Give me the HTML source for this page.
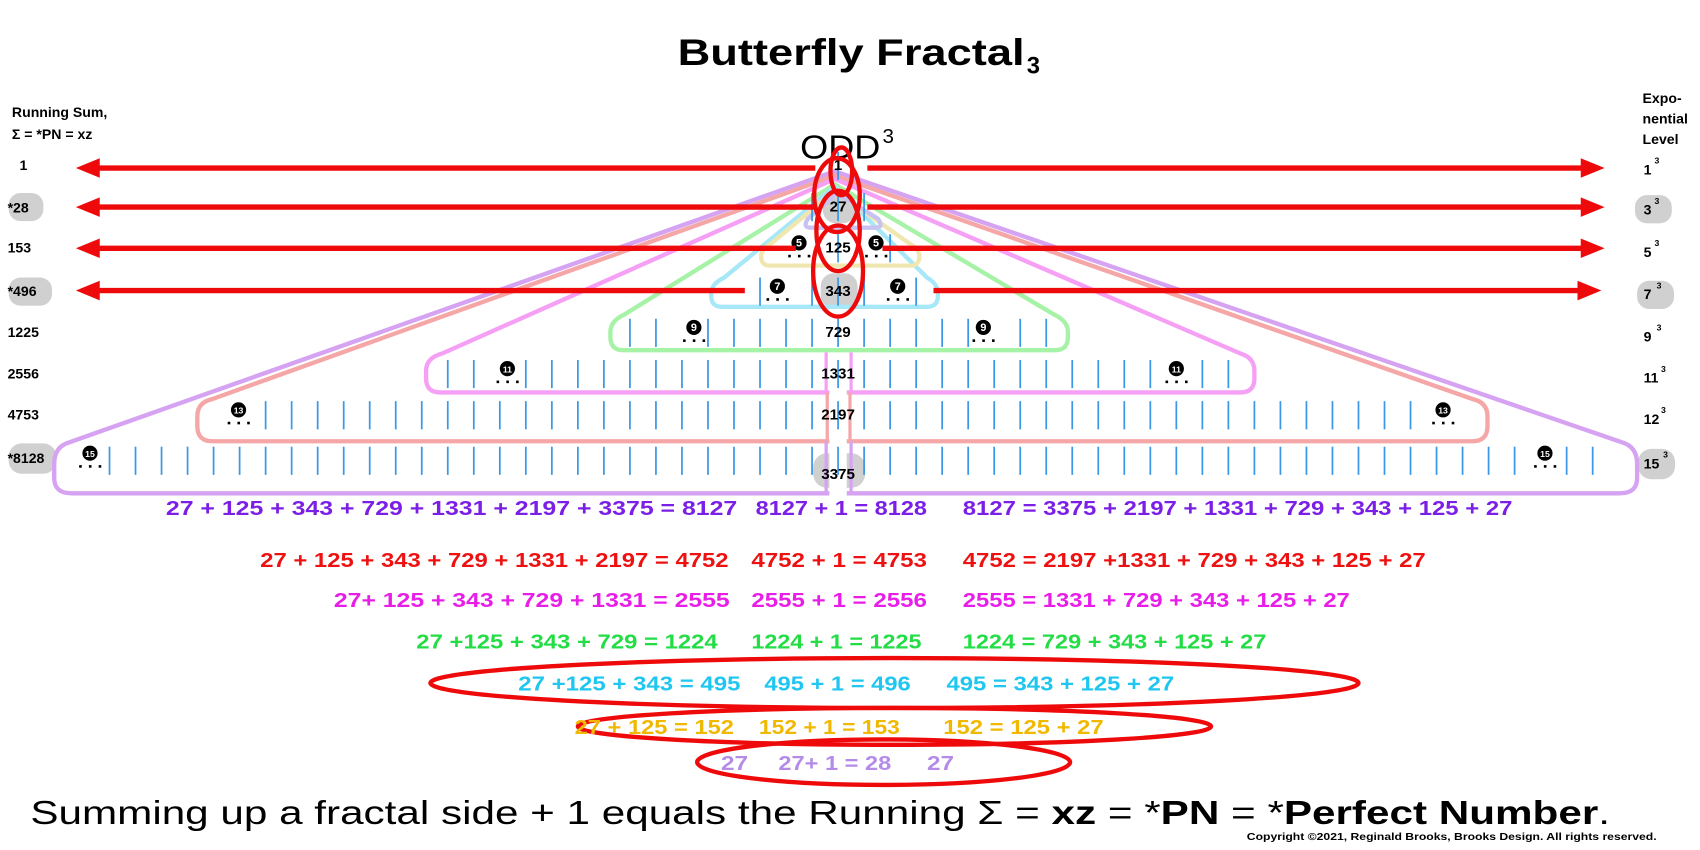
<!DOCTYPE html>
<html><head><meta charset="utf-8"><style>html,body{margin:0;padding:0;background:#fff}svg{display:block}</style></head>
<body>
<svg width="1700" height="850" viewBox="0 0 1568 784" xmlns="http://www.w3.org/2000/svg" font-family="Liberation Sans, sans-serif">
<rect width="1568" height="784" fill="#fff"/>
<text x="625" y="60" font-size="34" font-weight="bold" textLength="320" lengthAdjust="spacingAndGlyphs">Butterfly Fractal</text>
<text x="947" y="68" font-size="22" font-weight="bold">3</text>
<text x="738" y="146" font-size="31" textLength="74" lengthAdjust="spacingAndGlyphs">ODD</text>
<text x="814" y="132" font-size="19">3</text>
<g font-size="13" font-weight="bold">
<text x="11" y="108">Running Sum,</text><text x="11" y="128">Σ = *PN = xz</text>
<text x="1515" y="95">Expo-</text><text x="1515" y="114">nential</text><text x="1515" y="133">Level</text>
</g>
<g fill="#d0d0d0">
<rect x="8" y="178" width="32" height="26" rx="11"/><rect x="8" y="256" width="40" height="26" rx="11"/><rect x="8" y="409" width="44" height="28" rx="12"/>
<rect x="1508" y="180" width="34" height="26" rx="11"/><rect x="1510" y="259" width="34" height="26" rx="11"/><rect x="1511" y="414" width="34" height="28" rx="12"/>
<rect x="759" y="174" width="30" height="32" rx="12"/><rect x="757" y="252" width="34" height="32" rx="12"/><rect x="750" y="418" width="48" height="32" rx="13"/>
</g>
<g font-size="13" font-weight="bold">
<text x="18" y="157">1</text><text x="7" y="196">*28</text><text x="7" y="233">153</text><text x="7" y="273">*496</text>
<text x="7" y="311">1225</text><text x="7" y="349">2556</text><text x="7" y="387">4753</text><text x="7" y="427">*8128</text>
<text x="1516" y="161">1</text><text x="1516" y="198">3</text><text x="1516" y="237">5</text><text x="1516" y="276">7</text>
<text x="1516" y="315">9</text><text x="1516" y="353">11</text><text x="1516" y="391">12</text><text x="1516" y="432">15</text>
</g>
<g font-size="8" font-weight="bold">
<text x="1526" y="151">3</text><text x="1526" y="188">3</text><text x="1526" y="227">3</text><text x="1528" y="266">3</text>
<text x="1528" y="305">3</text><text x="1532" y="343">3</text><text x="1532" y="381">3</text><text x="1534" y="422">3</text>
</g>
<g fill="none" stroke-width="4" stroke-linejoin="round">
<path d="M770,158 L64,408 Q50,412 50,428 L50,441 Q50,455 66,455 L1494,455 Q1510,455 1510,441 L1510,428 Q1510,412 1496,408 Z" stroke="#d6a2f2"/>
<path d="M770,162 L196,368 Q182,371 182,384 L182,393 Q182,407 196,407 L1358,407 Q1372,407 1372,393 L1372,384 Q1372,371 1358,368 Z" stroke="#f5a6a6"/>
<path d="M770,165 L408,326 Q393,330 393,342 L393,349 Q393,362 406,362 L1144,362 Q1157,362 1157,349 L1157,342 Q1157,330 1144,326 Z" stroke="#f5a0f5"/>
<path d="M770,170 L576,290 Q563,296 563,306 L563,311 Q563,323 575,323 L973,323 Q985,323 985,311 L985,306 Q985,296 972,290 Z" stroke="#a6f2a6"/>
<path d="M770,172 L668,256 Q656,262 656,270 L656,273 Q656,283 666,283 L855,283 Q865,283 865,273 L865,270 Q865,262 855,256 Z" stroke="#a6e8f8"/>
<path d="M770,176 L712,224 Q702,230 702,236 Q702,245 710,245 L840,245 Q848,245 848,236 Q848,230 838,224 Z" stroke="#f0e6b0"/>
<path d="M772,178 L745,202 Q740,210 748,210 L808,210 Q815,210 810,202 Z" stroke="#c8c2f2"/>
</g>
<g stroke="#fff" stroke-width="16">
<line x1="773" y1="330" x2="773" y2="462"/>
</g>
<g stroke-width="3">
<line x1="762" y1="325" x2="762" y2="364" stroke="#f5a0f5"/><line x1="785" y1="325" x2="785" y2="364" stroke="#f5a0f5"/>
<line x1="763" y1="362" x2="763" y2="409" stroke="#f5a6a6"/><line x1="784" y1="362" x2="784" y2="409" stroke="#f5a6a6"/>
<line x1="762" y1="407" x2="762" y2="457" stroke="#d6a2f2"/><line x1="785" y1="407" x2="785" y2="457" stroke="#d6a2f2"/>
</g>
<g stroke="#3a98e6" stroke-width="1.6" id="ticks"></g>
<g id="badges"></g>
<g font-size="14" font-weight="bold" text-anchor="middle">
<text x="773" y="157">1</text><text x="773" y="195">27</text><text x="773" y="233">125</text><text x="773" y="273">343</text>
<text x="773" y="311">729</text><text x="773" y="349">1331</text><text x="773" y="387">2197</text><text x="773" y="442">3375</text>
</g>
<g stroke="#ee0a0a" stroke-width="5">
<line x1="88" y1="155" x2="752" y2="155"/><line x1="800" y1="155" x2="1462" y2="155"/>
<line x1="88" y1="191" x2="752" y2="191"/><line x1="800" y1="191" x2="1462" y2="191"/>
<line x1="88" y1="229" x2="734" y2="229"/><line x1="814" y1="229" x2="1462" y2="229"/>
<line x1="88" y1="268" x2="687" y2="268"/><line x1="861" y1="268" x2="1460" y2="268"/>
</g>
<g fill="#ee0a0a">
<polygon points="70,155 92,146 92,164"/><polygon points="1480,155 1458,146 1458,164"/>
<polygon points="70,191 92,182 92,200"/><polygon points="1480,191 1458,182 1458,200"/>
<polygon points="70,229 92,220 92,238"/><polygon points="1480,229 1458,220 1458,238"/>
<polygon points="70,268 92,259 92,277"/><polygon points="1477,268 1455,259 1455,277"/>
</g>
<g fill="none" stroke="#ee0a0a" stroke-width="4">
<ellipse cx="776" cy="158" rx="10" ry="22"/>
<ellipse cx="772" cy="180" rx="21" ry="34"/>
<ellipse cx="773" cy="213" rx="20" ry="37"/>
<ellipse cx="773" cy="250" rx="23" ry="42"/>
<ellipse cx="825" cy="630" rx="428" ry="23"/>
<ellipse cx="825" cy="670" rx="292" ry="17"/>
<ellipse cx="815" cy="703" rx="172" ry="21"/>
</g>
<g font-size="19" font-weight="bold" lengthAdjust="spacingAndGlyphs">
<g fill="#7b1fe6">
<text x="153" y="475" textLength="527" lengthAdjust="spacingAndGlyphs">27 + 125 + 343 + 729 + 1331 + 2197 + 3375 = 8127</text>
<text x="697" y="475" textLength="158" lengthAdjust="spacingAndGlyphs">8127 + 1 = 8128</text>
<text x="888" y="475" textLength="507" lengthAdjust="spacingAndGlyphs">8127 = 3375 + 2197 + 1331 + 729 + 343 + 125 + 27</text></g>
<g fill="#ee1111">
<text x="240" y="523" textLength="432" lengthAdjust="spacingAndGlyphs">27 + 125 + 343 + 729 + 1331 + 2197 = 4752</text>
<text x="693" y="523" textLength="162" lengthAdjust="spacingAndGlyphs">4752 + 1 = 4753</text>
<text x="888" y="523" textLength="427" lengthAdjust="spacingAndGlyphs">4752 = 2197 +1331 + 729 + 343 + 125 + 27</text></g>
<g fill="#e81ee8">
<text x="308" y="560" textLength="365" lengthAdjust="spacingAndGlyphs">27+ 125 + 343 + 729 + 1331  = 2555</text>
<text x="693" y="560" textLength="162" lengthAdjust="spacingAndGlyphs">2555 + 1 = 2556</text>
<text x="888" y="560" textLength="357" lengthAdjust="spacingAndGlyphs">2555 = 1331 + 729 + 343 + 125 + 27</text></g>
<g fill="#22dd44">
<text x="384" y="598" textLength="278" lengthAdjust="spacingAndGlyphs">27 +125 + 343 + 729 = 1224</text>
<text x="693" y="598" textLength="157" lengthAdjust="spacingAndGlyphs">1224 + 1 = 1225</text>
<text x="888" y="598" textLength="280" lengthAdjust="spacingAndGlyphs">1224 = 729 + 343 + 125 + 27</text></g>
<g fill="#1ec6f0">
<text x="478" y="637" textLength="205" lengthAdjust="spacingAndGlyphs">27 +125 + 343 = 495</text>
<text x="705" y="637" textLength="135" lengthAdjust="spacingAndGlyphs">495 + 1 = 496</text>
<text x="873" y="637" textLength="210" lengthAdjust="spacingAndGlyphs">495 = 343 + 125 + 27</text></g>
<g fill="#f0b800">
<text x="530" y="677" textLength="147" lengthAdjust="spacingAndGlyphs">27 + 125 = 152</text>
<text x="700" y="677" textLength="130" lengthAdjust="spacingAndGlyphs">152 + 1 = 153</text>
<text x="870" y="677" textLength="148" lengthAdjust="spacingAndGlyphs">152 = 125 + 27</text></g>
<g fill="#b48ce8">
<text x="665" y="710" textLength="25" lengthAdjust="spacingAndGlyphs">27</text>
<text x="718" y="710" textLength="104" lengthAdjust="spacingAndGlyphs">27+ 1 = 28</text>
<text x="855" y="710" textLength="25" lengthAdjust="spacingAndGlyphs">27</text></g>
</g>
<text x="28" y="760" font-size="31" textLength="1457" lengthAdjust="spacingAndGlyphs">Summing up a fractal side + 1 equals the Running Σ = <tspan font-weight="bold">xz</tspan> = *<tspan font-weight="bold">PN</tspan> = *<tspan font-weight="bold">Perfect Number</tspan>.</text>
<text x="1150" y="775" font-size="9" font-weight="bold" textLength="378" lengthAdjust="spacingAndGlyphs">Copyright ©2021, Reginald Brooks, Brooks Design. All rights reserved.</text>
<script>
(function(){
var ns="http://www.w3.org/2000/svg";
var ys=[152,190,228,268,306,344,382,422];
var hw=[0,30,70,95,200,360,575,705];
var badges=[null,null,[737,808],[717,828],[640,907],[468,1085],[220,1331],[83,1425]];
var labels=[0,0,5,7,9,11,13,15];
var tg=document.getElementById("ticks"),bg=document.getElementById("badges");
for(var i=0;i<8;i++){
 var y=ys[i]+(i==7?2:0);
 for(var k=-40;k<=40;k++){
  var x=773+k*24;
  if(Math.abs(x-773)>hw[i])continue;
  var b=badges[i],skip=false;
  if(b){for(var j=0;j<2;j++)if(Math.abs(x-b[j])<13)skip=true;}
  if(skip)continue;
  var l=document.createElementNS(ns,"line");
  l.setAttribute("x1",x);l.setAttribute("x2",x);l.setAttribute("y1",y-12);l.setAttribute("y2",y+14);
  tg.appendChild(l);
 }
 if(badges[i]){for(var j=0;j<2;j++){
  var bx=badges[i][j],by=ys[i]-4;
  var c=document.createElementNS(ns,"circle");c.setAttribute("cx",bx);c.setAttribute("cy",by);c.setAttribute("r",7);c.setAttribute("fill","#000");bg.appendChild(c);
  var t=document.createElementNS(ns,"text");t.setAttribute("x",bx);t.setAttribute("y",by+3.5);t.setAttribute("font-size",labels[i]>9?8:10);t.setAttribute("font-weight","bold");t.setAttribute("fill","#fff");t.setAttribute("text-anchor","middle");t.textContent=labels[i];bg.appendChild(t);
  for(var d=-1;d<=1;d++){var r=document.createElementNS(ns,"rect");r.setAttribute("x",bx+d*9-1);r.setAttribute("y",by+11);r.setAttribute("width",2.4);r.setAttribute("height",2.4);r.setAttribute("fill","#000");bg.appendChild(r);}
 }}
}
})();
</script>
</svg>
</body></html>
